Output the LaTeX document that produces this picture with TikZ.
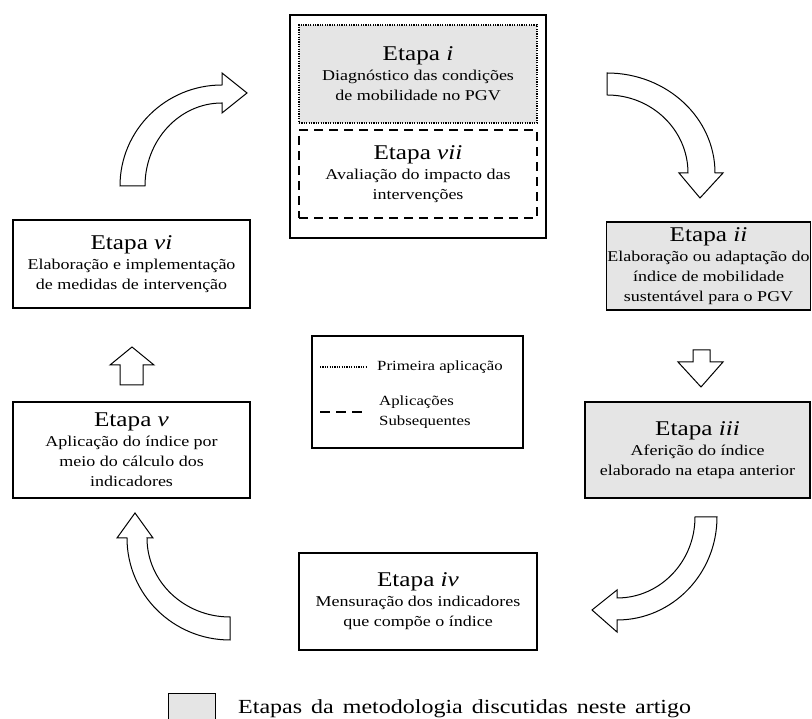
\documentclass[tikz,border=0pt]{standalone}
\usepackage{fontspec}
\setmainfont{Liberation Serif}[FakeStretch=1.2]
\usetikzlibrary{positioning}

\newcommand{\corpo}{\fontsize{15}{20}\selectfont}
\newcommand{\legenda}{\fontsize{14}{20}\selectfont}
\newcommand{\etapa}[1]{{\fontsize{21}{24}\selectfont Etapa \textit{#1}}}

\begin{document}
\begin{tikzpicture}[
  x = 1pt, y = 1pt,
  caixa/.style = {draw, line width = 1.5pt, align = center, inner sep = 1pt, font = \corpo},
  cinza/.style = {fill = gray!20},
  pontilhado/.style = {line width = 1.4pt, dash pattern = on 1.2pt off 1.2pt},
  tracejado/.style = {line width = 1.5pt, dash pattern = on 9pt off 6pt},
  seta/.style = {draw, line width = 1pt, fill = white, line join = miter},
  ]
  \useasboundingbox (0,0) rectangle (812,719);

  % etapas i e vii
  \node[draw, line width = 2pt, minimum width = 256pt, minimum height = 223pt] (topo) at (418,592.5) {};
  \node[caixa, cinza, pontilhado, minimum width = 238pt, minimum height = 98pt] (diag) at (418,645)
    {\etapa{i}\\ Diagnóstico das condições\\ de mobilidade no PGV};
  \node[caixa, tracejado, minimum width = 238pt, minimum height = 88pt] (aval) at (418,545)
    {\etapa{vii}\\ Avaliação do impacto das\\ intervenções};

  % etapas ii a vi
  \node[caixa, cinza, minimum width = 203pt, minimum height = 88pt] (elab) at (708.5,453)
    {\etapa{ii}\\ Elaboração ou adaptação do\\ índice de mobilidade\\ sustentável para o PGV};
  \node[caixa, cinza, minimum width = 225pt, minimum height = 96pt] (afer) at (697.5,269)
    {\etapa{iii}\\ Aferição do índice\\ elaborado na etapa anterior};
  \node[caixa, minimum width = 238pt, minimum height = 97pt] (mens) at (418,117.5)
    {\etapa{iv}\\ Mensuração dos indicadores\\ que compõe o índice};
  \node[caixa, minimum width = 237pt, minimum height = 96pt] (apli) at (131.5,269)
    {\etapa{v}\\ Aplicação do índice por\\ meio do cálculo dos\\ indicadores};
  \node[caixa, minimum width = 237pt, minimum height = 88pt] (medi) at (131.5,455)
    {\etapa{vi}\\ Elaboração e implementação\\ de medidas de intervenção};

  % setas
  \draw[seta] (120,533) arc[start angle = 180, end angle = 90, x radius = 102, y radius = 101]
    -- (222,646) -- (247,626) -- (222,606) -- (222,616)
    arc[start angle = 90, end angle = 180, x radius = 77, y radius = 83] -- cycle;
  \draw[seta] (607,646) arc[start angle = 90, end angle = 0, x radius = 108, y radius = 100]
    -- (723,546) -- (700,521) -- (679,546) -- (688,546)
    arc[start angle = 0, end angle = 90, x radius = 81, y radius = 78] -- cycle;
  \draw[seta] (693,369) -- (693,357) -- (678,357) -- (701,332) -- (723,357) -- (710,357) -- (710,369) -- cycle;
  \draw[seta] (717,202) arc[start angle = 0, end angle = -90, x radius = 100, y radius = 103]
    -- (617,87) -- (592,109) -- (617,129) -- (617,121)
    arc[start angle = -90, end angle = 0, x radius = 78, y radius = 81] -- cycle;
  \draw[seta] (230,79) arc[start angle = 270, end angle = 180, x radius = 103, y radius = 102]
    -- (117,181) -- (135,206) -- (153,181) -- (147,181)
    arc[start angle = 180, end angle = 270, x radius = 83, y radius = 79] -- cycle;
  \draw[seta] (120,334) -- (120,354) -- (110,354) -- (132,372) -- (154,354) -- (143,354) -- (143,334) -- cycle;

  % legenda
  \node[draw, line width = 1.5pt, minimum width = 211pt, minimum height = 112pt] (leg) at (417.5,327) {};
  \draw[pontilhado] (320,352) -- (367,352) coordinate (pa);
  \node[right = 10pt of pa, inner sep = 0pt, font = \legenda] (prim) {Primeira aplicação};
  \draw[tracejado, dash pattern = on 10pt off 6pt] (320,307) -- (362,307) coordinate (sa);
  \node[right = 17pt of sa, inner sep = 0pt, align = left, font = \legenda] (subs) {Aplicações\\ Subsequentes};

  \node[draw, cinza, line width = 1pt, minimum width = 47pt, minimum height = 40pt, anchor = north west] (amostra) at (168,26) {};
  \node[anchor = base west, inner sep = 0pt, font = {\fontsize{20}{24}\selectfont\spaceskip = 9pt}] (nota) at (238,5)
    {Etapas da metodologia discutidas neste artigo};
\end{tikzpicture}
\end{document}
